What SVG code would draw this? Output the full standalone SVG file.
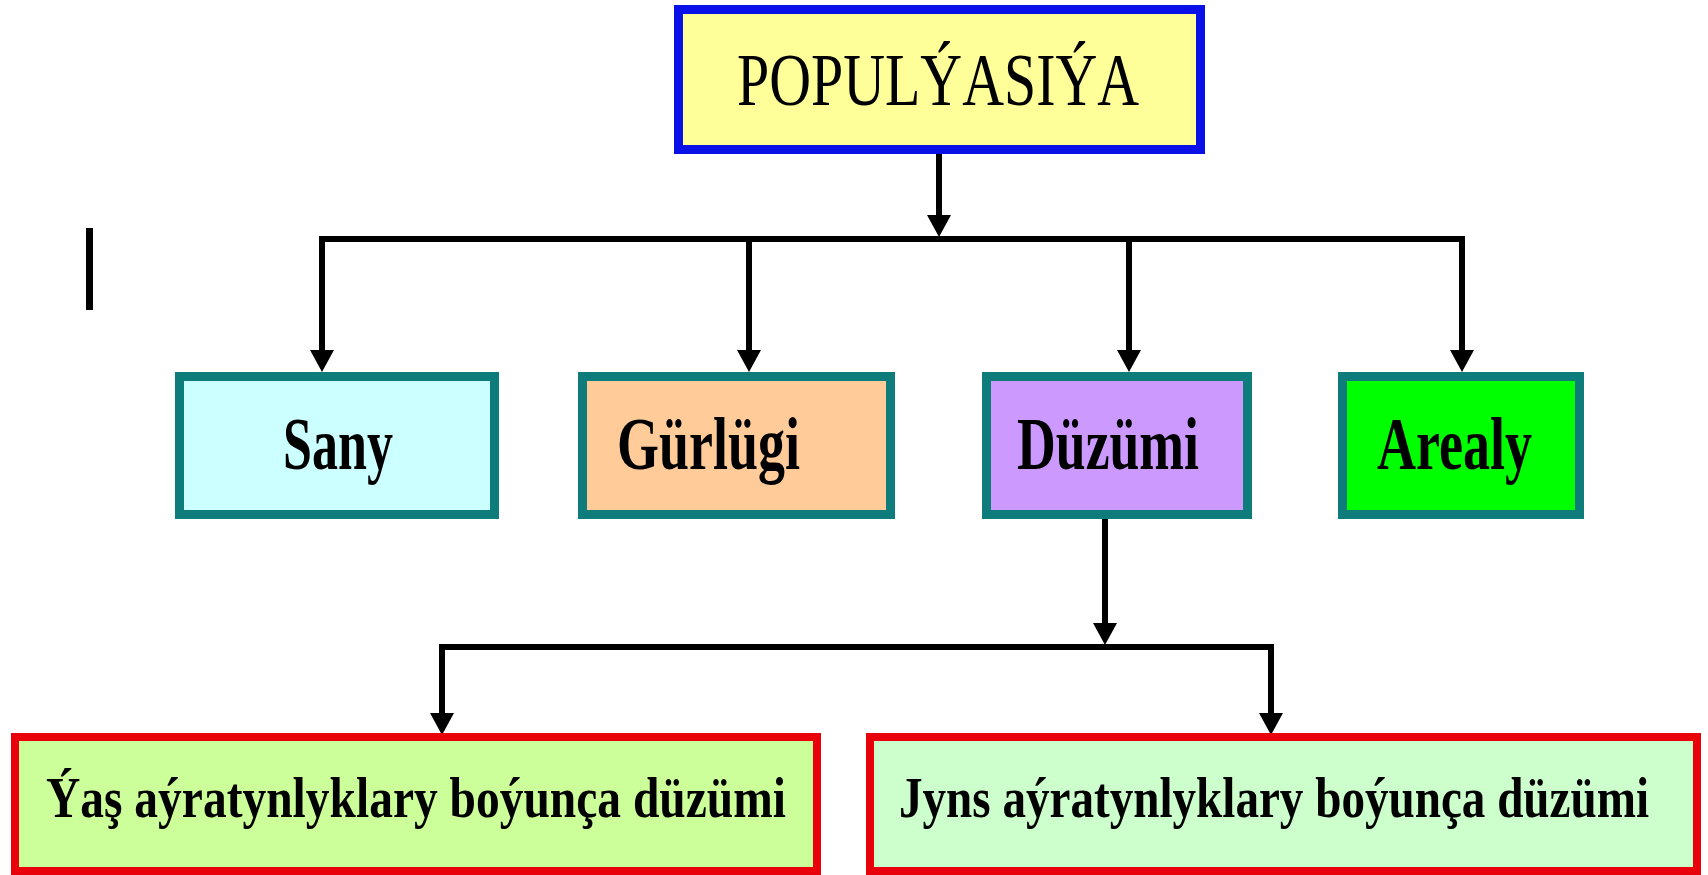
<svg xmlns="http://www.w3.org/2000/svg" width="1708" height="875" viewBox="0 0 1708 875">
<style>
.lbl{font-family:"Liberation Serif","Times New Roman",serif;fill:#000;}
.b{font-weight:bold;}
.teal{stroke:#0E7C7B;stroke-width:9;}
.red{stroke:#E8000B;stroke-width:8;}
.conn{fill:none;stroke:#000;stroke-width:6;stroke-linejoin:miter;}
</style>
<defs>
<marker id="ah" viewBox="0 0 22 24" refX="0" refY="12" markerUnits="userSpaceOnUse" markerWidth="22" markerHeight="24" orient="auto">
<path d="M0,0 L22,12 L0,24 z" fill="#000"/>
</marker>
</defs>
<rect x="0" y="0" width="1708" height="875" fill="#fff"/>
<rect x="86" y="228" width="7" height="82" fill="#000"/>
<g id="connectors">
<path class="conn" d="M939,154 V215" marker-end="url(#ah)"/>
<path class="conn" d="M322,350 V239 H1462 V350" marker-end="url(#ah)"/>
<path class="conn" d="M322,239 V350" marker-end="url(#ah)"/>
<path class="conn" d="M749,239 V350" marker-end="url(#ah)"/>
<path class="conn" d="M1129,239 V350" marker-end="url(#ah)"/>
<path class="conn" d="M1105,518 V623" marker-end="url(#ah)"/>
<path class="conn" d="M442,713 V647 H1271 V713" marker-end="url(#ah)"/>
<path class="conn" d="M442,647 V713" marker-end="url(#ah)"/>
</g>
<g id="populyasiya">
<rect x="678.5" y="9.5" width="522" height="140" fill="#FFFF99" stroke="#0A10E8" stroke-width="9"/>
<text class="lbl" x="737" y="105" font-size="74" textLength="402" lengthAdjust="spacingAndGlyphs">POPULÝASIÝA</text>
</g>
<g id="sany">
<rect class="teal" x="179.5" y="376.5" width="315" height="138" fill="#CCFFFF"/>
<text class="lbl b" x="283" y="469" font-size="73" textLength="110" lengthAdjust="spacingAndGlyphs">Sany</text>
</g>
<g id="gurlugi">
<rect class="teal" x="582.5" y="376.5" width="308" height="138" fill="#FFCC99"/>
<text class="lbl b" x="617" y="469" font-size="73" textLength="183" lengthAdjust="spacingAndGlyphs">Gürlügi</text>
</g>
<g id="duzumi">
<rect class="teal" x="986.5" y="376.5" width="261" height="138" fill="#CC99FF"/>
<text class="lbl b" x="1017" y="469" font-size="73" textLength="182" lengthAdjust="spacingAndGlyphs">Düzümi</text>
</g>
<g id="arealy">
<rect class="teal" x="1342.5" y="376.5" width="237" height="138" fill="#00FF00"/>
<text class="lbl b" x="1377" y="469" font-size="73" textLength="155" lengthAdjust="spacingAndGlyphs">Arealy</text>
</g>
<g id="yas">
<rect class="red" x="15" y="737" width="802" height="134" fill="#CCFF99"/>
<text class="lbl b" x="46" y="817" font-size="58" textLength="740" lengthAdjust="spacingAndGlyphs">Ýaş aýratynlyklary boýunça düzümi</text>
</g>
<g id="jyns">
<rect class="red" x="870" y="737" width="827" height="134" fill="#CCFFCC"/>
<text class="lbl b" x="899" y="817" font-size="58" textLength="750" lengthAdjust="spacingAndGlyphs">Jyns aýratynlyklary boýunça düzümi</text>
</g>
</svg>
